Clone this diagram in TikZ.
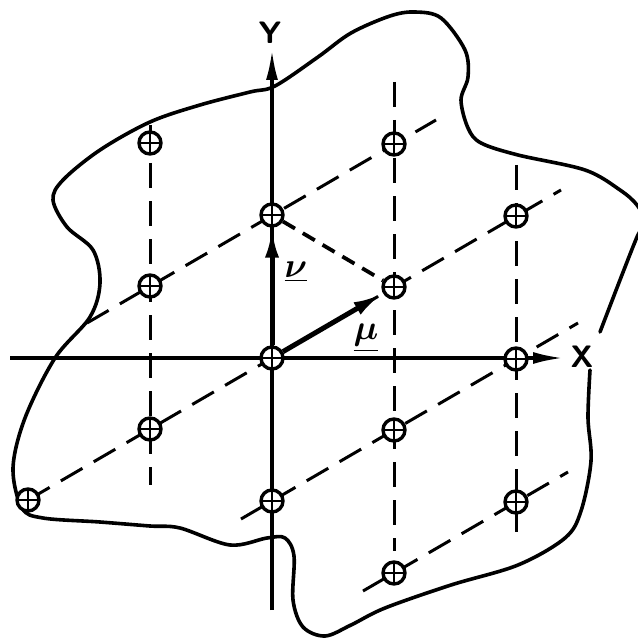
\RequirePackage{fix-cm}
\documentclass[tikz,border=0pt]{standalone}
\usepackage{amsmath,bm}
\usetikzlibrary{arrows.meta}
\begin{document}
\begin{tikzpicture}[x=1pt,y=-1pt,
  latt/.style={circle, draw, line width=3.4pt, fill=white, minimum size=22pt, inner sep=0pt,
    path picture={\draw[line width=1.9pt] (path picture bounding box.north) -- (path picture bounding box.south) (path picture bounding box.west) -- (path picture bounding box.east);}},
  bound/.style={line width=3.6pt, line join=round, line cap=round},
  gridline/.style={line width=3pt, dash pattern=on 25pt off 13pt},
  tri/.style={line width=3.8pt, dash pattern=on 14pt off 9pt},
  axisline/.style={line width=3.2pt, -{Latex[length=30pt,width=12pt]}},
  vec/.style={line width=5pt, -{Latex[length=30pt,width=14pt]}},
  axlbl/.style={font=\fontsize{31}{31}\selectfont\sffamily\bfseries, inner sep=0pt},
  veclbl/.style={font=\fontsize{35}{35}\selectfont, inner sep=0pt}
]
\useasboundingbox (0,0) rectangle (637,639);

% boundary of the crystal
\draw[bound] plot[smooth, tension=0.55] coordinates {
 (600,332) (620,280) (637,237) (645,222) (637,205) (620,190) (585,170) (518,155) (481,143)
 (468,128) (461,100) (468,77) (465,50) (441,18) (415,12) (390,16) (351,33)
 (318,57) (275,86) (250,92) (200,105) (150,122) (100,150) (63,180) (53,200)
 (67,227) (93,250) (100,283) (90,317) (55,358) (25,418) (13,468) (22,508)
 (43,518) (100,522) (150,526) (180,528) (230,545) (267,538) (285,538)
 (294,556) (293,600) (303,627) (325,636) (351,625) (385,608) (451,585)
 (518,565) (565,538) (581,511) (591,461) (588,418) (590,370)};

% named free ends of the lattice lines
\coordinate (v1a) at (150,125); \coordinate (v1b) at (150,485);
\coordinate (v3a) at (394,82);  \coordinate (v3b) at (394,551);
\coordinate (v4a) at (516,165); \coordinate (v4b) at (516,543);
\coordinate (d0b) at (561,190);
\coordinate (d1a) at (87,323);  \coordinate (d1b) at (436,120);
\coordinate (d2a) at (241,519); \coordinate (d2b) at (578,323);
\coordinate (d3a) at (363,591); \coordinate (d3b) at (568,472);
\coordinate (ya) at (272,610);  \coordinate (yb) at (272,50);
\coordinate (xa) at (10,358);   \coordinate (xb) at (563,358);

% lattice point positions
\coordinate (c1) at (150,143);
\coordinate (c2) at (150,286);
\coordinate (c3) at (150,429);
\coordinate (c4) at (28,500);
\coordinate (c5) at (272,215);
\coordinate (c6) at (272,358);
\coordinate (c7) at (272,501);
\coordinate (c8) at (394,144);
\coordinate (c9) at (394,287);
\coordinate (c10) at (394,430);
\coordinate (c11) at (394,573);
\coordinate (c12) at (516,216);
\coordinate (c13) at (516,359);
\coordinate (c14) at (516,502);

% dashed lattice lines
\draw[gridline] (v1a) -- (v1b);
\draw[gridline] (v3a) -- (v3b);
\draw[gridline] (v4a) -- (v4b);
\draw[gridline] (c4) -- (d0b);
\draw[gridline] (d1a) -- (d1b);
\draw[gridline] (d2a) -- (d2b);
\draw[gridline] (d3a) -- (d3b);

% axes
\draw[axisline] (ya) -- (yb);
\draw[axisline] (xa) -- (xb);
\node[axlbl] (ylab) at (270,33) {Y};
\node[axlbl] (xlab) at (582,357) {X};

% lattice points
\foreach \i in {1,...,14} { \node[latt] (p\i) at (c\i) {}; }

% basis vectors
\draw[tri] (p5) -- (p9);
\draw[vec] (p6) -- (p5);
\draw[vec] (p6) -- (p9);
\node[veclbl] (nu) at (296,272) {$\underline{\bm{\nu}}$};
\node[veclbl] (mu) at (366,338) {$\underline{\bm{\mu}}$};
\end{tikzpicture}
\end{document}
